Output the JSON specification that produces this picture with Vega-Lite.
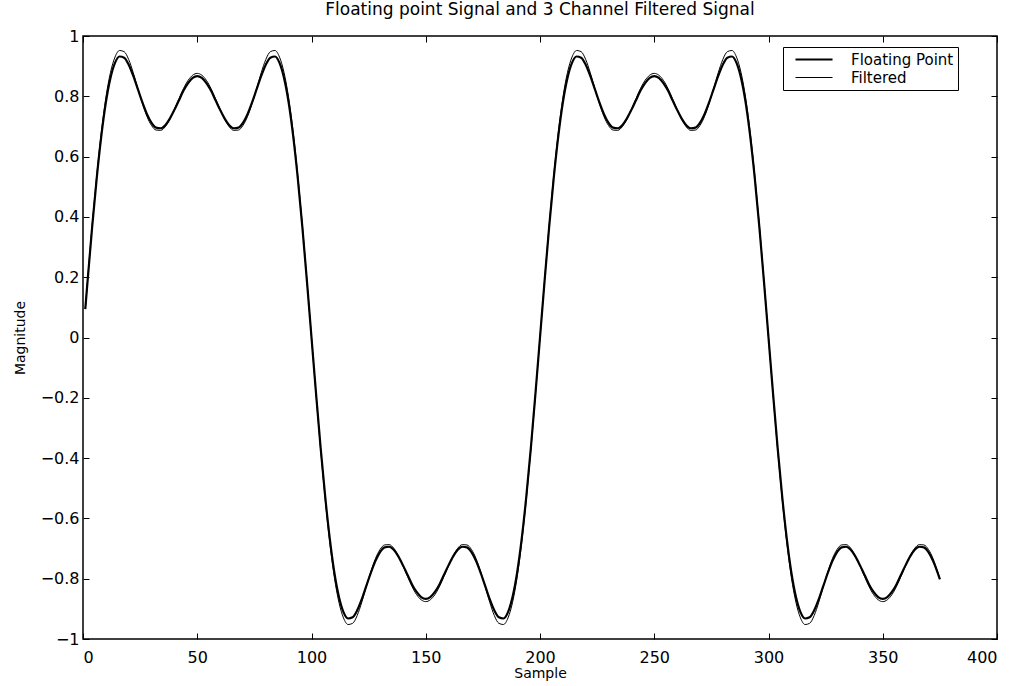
{
  "$schema": "https://vega.github.io/schema/vega-lite/v6.json",
  "width": 914,
  "height": 603,
  "autosize": {"type": "none"},
  "padding": {"left": 83, "top": 36, "right": 22, "bottom": 47},
  "background": "white",
  "title": {"text": "Floating point Signal and 3 Channel Filtered Signal", "font": "DejaVu Sans", "fontSize": 17, "fontWeight": "normal", "color": "black", "anchor": "middle", "offset": 9},
  "config": {
    "view": {"stroke": "black", "strokeWidth": 1.5},
    "axis": {"domain": false, "grid": false, "tickSize": -6, "tickColor": "black", "tickWidth": 1, "labelFont": "DejaVu Sans", "labelFontSize": 16, "labelColor": "black", "titleFont": "DejaVu Sans", "titleFontSize": 14, "titleFontWeight": "normal", "titleColor": "black"}
  },
  "datasets": {
    "d": [
      {"x":1,"fp":0.094,"fl":0.095},
      {"x":2,"fp":0.187,"fl":0.19},{"x":4,"fp":0.366,"fl":0.372},{"x":6,"fp":0.528,"fl":0.537},{"x":8,"fp":0.667,"fl":0.68},{"x":10,"fp":0.779,"fl":0.795},
      {"x":12,"fp":0.86,"fl":0.878},{"x":14,"fp":0.911,"fl":0.93},{"x":16,"fp":0.932,"fl":0.952},{"x":18,"fp":0.928,"fl":0.948},{"x":20,"fp":0.905,"fl":0.922},
      {"x":22,"fp":0.868,"fl":0.878},{"x":24,"fp":0.824,"fl":0.826},{"x":26,"fp":0.78,"fl":0.776},{"x":28,"fp":0.741,"fl":0.733},{"x":30,"fp":0.712,"fl":0.703},
      {"x":32,"fp":0.696,"fl":0.688},{"x":34,"fp":0.694,"fl":0.687},{"x":36,"fp":0.704,"fl":0.699},{"x":38,"fp":0.726,"fl":0.724},{"x":40,"fp":0.755,"fl":0.757},
      {"x":42,"fp":0.787,"fl":0.792},{"x":44,"fp":0.819,"fl":0.826},{"x":46,"fp":0.844,"fl":0.853},{"x":48,"fp":0.861,"fl":0.87},{"x":50,"fp":0.867,"fl":0.876},
      {"x":52,"fp":0.861,"fl":0.87},{"x":54,"fp":0.844,"fl":0.853},{"x":56,"fp":0.819,"fl":0.826},{"x":58,"fp":0.787,"fl":0.792},{"x":60,"fp":0.755,"fl":0.757},
      {"x":62,"fp":0.726,"fl":0.724},{"x":64,"fp":0.704,"fl":0.699},{"x":66,"fp":0.694,"fl":0.687},{"x":68,"fp":0.696,"fl":0.688},{"x":70,"fp":0.712,"fl":0.703},
      {"x":72,"fp":0.741,"fl":0.733},{"x":74,"fp":0.78,"fl":0.776},{"x":76,"fp":0.824,"fl":0.826},{"x":78,"fp":0.868,"fl":0.878},{"x":80,"fp":0.905,"fl":0.922},
      {"x":82,"fp":0.928,"fl":0.948},{"x":84,"fp":0.932,"fl":0.952},{"x":86,"fp":0.911,"fl":0.93},{"x":88,"fp":0.86,"fl":0.878},{"x":90,"fp":0.779,"fl":0.795},
      {"x":92,"fp":0.667,"fl":0.68},{"x":94,"fp":0.528,"fl":0.537},{"x":96,"fp":0.366,"fl":0.372},{"x":98,"fp":0.187,"fl":0.19},{"x":100,"fp":0,"fl":0},
      {"x":102,"fp":-0.187,"fl":-0.19},{"x":104,"fp":-0.366,"fl":-0.372},{"x":106,"fp":-0.528,"fl":-0.537},{"x":108,"fp":-0.667,"fl":-0.68},{"x":110,"fp":-0.779,"fl":-0.795},
      {"x":112,"fp":-0.86,"fl":-0.878},{"x":114,"fp":-0.911,"fl":-0.93},{"x":116,"fp":-0.932,"fl":-0.952},{"x":118,"fp":-0.928,"fl":-0.948},{"x":120,"fp":-0.905,"fl":-0.922},
      {"x":122,"fp":-0.868,"fl":-0.878},{"x":124,"fp":-0.824,"fl":-0.826},{"x":126,"fp":-0.78,"fl":-0.776},{"x":128,"fp":-0.741,"fl":-0.733},{"x":130,"fp":-0.712,"fl":-0.703},
      {"x":132,"fp":-0.696,"fl":-0.688},{"x":134,"fp":-0.694,"fl":-0.687},{"x":136,"fp":-0.704,"fl":-0.699},{"x":138,"fp":-0.726,"fl":-0.724},{"x":140,"fp":-0.755,"fl":-0.757},
      {"x":142,"fp":-0.787,"fl":-0.792},{"x":144,"fp":-0.819,"fl":-0.826},{"x":146,"fp":-0.844,"fl":-0.853},{"x":148,"fp":-0.861,"fl":-0.87},{"x":150,"fp":-0.867,"fl":-0.876},
      {"x":152,"fp":-0.861,"fl":-0.87},{"x":154,"fp":-0.844,"fl":-0.853},{"x":156,"fp":-0.819,"fl":-0.826},{"x":158,"fp":-0.787,"fl":-0.792},{"x":160,"fp":-0.755,"fl":-0.757},
      {"x":162,"fp":-0.726,"fl":-0.724},{"x":164,"fp":-0.704,"fl":-0.699},{"x":166,"fp":-0.694,"fl":-0.687},{"x":168,"fp":-0.696,"fl":-0.688},{"x":170,"fp":-0.712,"fl":-0.703},
      {"x":172,"fp":-0.741,"fl":-0.733},{"x":174,"fp":-0.78,"fl":-0.776},{"x":176,"fp":-0.824,"fl":-0.826},{"x":178,"fp":-0.868,"fl":-0.878},{"x":180,"fp":-0.905,"fl":-0.922},
      {"x":182,"fp":-0.928,"fl":-0.948},{"x":184,"fp":-0.932,"fl":-0.952},{"x":186,"fp":-0.911,"fl":-0.93},{"x":188,"fp":-0.86,"fl":-0.878},{"x":190,"fp":-0.779,"fl":-0.795},
      {"x":192,"fp":-0.667,"fl":-0.68},{"x":194,"fp":-0.528,"fl":-0.537},{"x":196,"fp":-0.366,"fl":-0.372},{"x":198,"fp":-0.187,"fl":-0.19},{"x":200,"fp":0,"fl":0},
      {"x":202,"fp":0.187,"fl":0.19},{"x":204,"fp":0.366,"fl":0.372},{"x":206,"fp":0.528,"fl":0.537},{"x":208,"fp":0.667,"fl":0.68},{"x":210,"fp":0.779,"fl":0.795},
      {"x":212,"fp":0.86,"fl":0.878},{"x":214,"fp":0.911,"fl":0.93},{"x":216,"fp":0.932,"fl":0.952},{"x":218,"fp":0.928,"fl":0.948},{"x":220,"fp":0.905,"fl":0.922},
      {"x":222,"fp":0.868,"fl":0.878},{"x":224,"fp":0.824,"fl":0.826},{"x":226,"fp":0.78,"fl":0.776},{"x":228,"fp":0.741,"fl":0.733},{"x":230,"fp":0.712,"fl":0.703},
      {"x":232,"fp":0.696,"fl":0.688},{"x":234,"fp":0.694,"fl":0.687},{"x":236,"fp":0.704,"fl":0.699},{"x":238,"fp":0.726,"fl":0.724},{"x":240,"fp":0.755,"fl":0.757},
      {"x":242,"fp":0.787,"fl":0.792},{"x":244,"fp":0.819,"fl":0.826},{"x":246,"fp":0.844,"fl":0.853},{"x":248,"fp":0.861,"fl":0.87},{"x":250,"fp":0.867,"fl":0.876},
      {"x":252,"fp":0.861,"fl":0.87},{"x":254,"fp":0.844,"fl":0.853},{"x":256,"fp":0.819,"fl":0.826},{"x":258,"fp":0.787,"fl":0.792},{"x":260,"fp":0.755,"fl":0.757},
      {"x":262,"fp":0.726,"fl":0.724},{"x":264,"fp":0.704,"fl":0.699},{"x":266,"fp":0.694,"fl":0.687},{"x":268,"fp":0.696,"fl":0.688},{"x":270,"fp":0.712,"fl":0.703},
      {"x":272,"fp":0.741,"fl":0.733},{"x":274,"fp":0.78,"fl":0.776},{"x":276,"fp":0.824,"fl":0.826},{"x":278,"fp":0.868,"fl":0.878},{"x":280,"fp":0.905,"fl":0.922},
      {"x":282,"fp":0.928,"fl":0.948},{"x":284,"fp":0.932,"fl":0.952},{"x":286,"fp":0.911,"fl":0.93},{"x":288,"fp":0.86,"fl":0.878},{"x":290,"fp":0.779,"fl":0.795},
      {"x":292,"fp":0.667,"fl":0.68},{"x":294,"fp":0.528,"fl":0.537},{"x":296,"fp":0.366,"fl":0.372},{"x":298,"fp":0.187,"fl":0.19},{"x":300,"fp":0,"fl":0},
      {"x":302,"fp":-0.187,"fl":-0.19},{"x":304,"fp":-0.366,"fl":-0.372},{"x":306,"fp":-0.528,"fl":-0.537},{"x":308,"fp":-0.667,"fl":-0.68},{"x":310,"fp":-0.779,"fl":-0.795},
      {"x":312,"fp":-0.86,"fl":-0.878},{"x":314,"fp":-0.911,"fl":-0.93},{"x":316,"fp":-0.932,"fl":-0.952},{"x":318,"fp":-0.928,"fl":-0.948},{"x":320,"fp":-0.905,"fl":-0.922},
      {"x":322,"fp":-0.868,"fl":-0.878},{"x":324,"fp":-0.824,"fl":-0.826},{"x":326,"fp":-0.78,"fl":-0.776},{"x":328,"fp":-0.741,"fl":-0.733},{"x":330,"fp":-0.712,"fl":-0.703},
      {"x":332,"fp":-0.696,"fl":-0.688},{"x":334,"fp":-0.694,"fl":-0.687},{"x":336,"fp":-0.704,"fl":-0.699},{"x":338,"fp":-0.726,"fl":-0.724},{"x":340,"fp":-0.755,"fl":-0.757},
      {"x":342,"fp":-0.787,"fl":-0.792},{"x":344,"fp":-0.819,"fl":-0.826},{"x":346,"fp":-0.844,"fl":-0.853},{"x":348,"fp":-0.861,"fl":-0.87},{"x":350,"fp":-0.867,"fl":-0.876},
      {"x":352,"fp":-0.861,"fl":-0.87},{"x":354,"fp":-0.844,"fl":-0.853},{"x":356,"fp":-0.819,"fl":-0.826},{"x":358,"fp":-0.787,"fl":-0.792},{"x":360,"fp":-0.755,"fl":-0.757},
      {"x":362,"fp":-0.726,"fl":-0.724},{"x":364,"fp":-0.704,"fl":-0.699},{"x":366,"fp":-0.694,"fl":-0.687},{"x":368,"fp":-0.696,"fl":-0.688},{"x":370,"fp":-0.712,"fl":-0.703},
      {"x":372,"fp":-0.741,"fl":-0.733},{"x":374,"fp":-0.78,"fl":-0.776},{"x":375,"fp":-0.802,"fl":-0.8}
    ]
  },
  "layer": [
    {
      "data": {"name": "d"},
      "transform": [{"fold": ["fp", "fl"], "as": ["series", "value"]}],
      "mark": {"type": "line", "color": "black", "interpolate": "monotone"},
      "encoding": {
        "x": {"field": "x", "type": "quantitative", "scale": {"domain": [0, 400], "nice": false}, "axis": {"orient": "bottom", "values": [0, 50, 100, 150, 200, 250, 300, 350, 400], "labelPadding": 16, "title": "Sample", "titlePadding": 1}},
        "y": {"field": "value", "type": "quantitative", "scale": {"domain": [-1, 1], "nice": false}, "axis": {"orient": "left", "values": [-1, -0.8, -0.6, -0.4, -0.2, 0, 0.2, 0.4, 0.6, 0.8, 1], "format": "~g", "labelPadding": 10, "title": "Magnitude", "titlePadding": 13}},
        "strokeWidth": {"field": "series", "type": "nominal", "scale": {"domain": ["fp", "fl"], "range": [2.2, 1]},
          "legend": {"title": null, "orient": "none", "legendX": 700, "legendY": 11, "symbolType": "M0,0H5.29", "symbolStrokeColor": "black", "symbolFillColor": "transparent", "symbolSize": 196, "labelOffset": 47, "labelFont": "DejaVu Sans", "labelFontSize": 15, "labelColor": "black", "labelExpr": "datum.label == 'fp' ? 'Floating Point' : 'Filtered'", "padding": 4, "rowPadding": 2, "strokeColor": "black", "fillColor": "white"}}
      }
    },
    {
      "data": {"name": "d"},
      "mark": {"type": "point", "opacity": 0},
      "encoding": {
        "x": {"field": "x", "type": "quantitative", "scale": {"domain": [0, 400], "nice": false}, "axis": {"orient": "top", "values": [0, 50, 100, 150, 200, 250, 300, 350, 400], "labels": false, "title": null}},
        "y": {"field": "fp", "type": "quantitative", "scale": {"domain": [-1, 1], "nice": false}, "axis": {"orient": "right", "values": [-1, -0.8, -0.6, -0.4, -0.2, 0, 0.2, 0.4, 0.6, 0.8, 1], "labels": false, "title": null}}
      }
    }
  ],
  "resolve": {"axis": {"x": "independent", "y": "independent"}}
}
